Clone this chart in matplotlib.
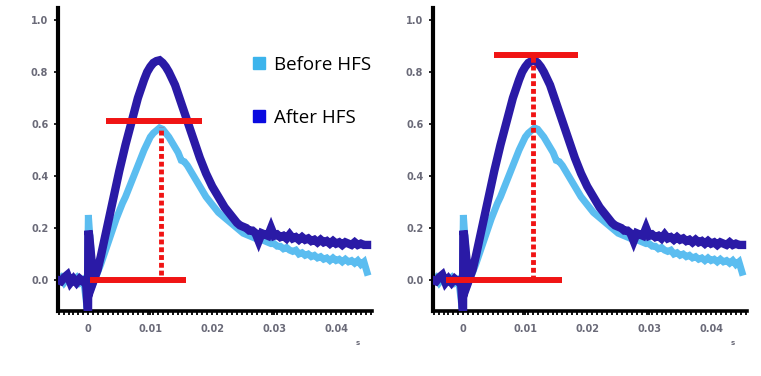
import numpy as np
import matplotlib
matplotlib.use("Agg")
import matplotlib.pyplot as plt
from matplotlib.lines import Line2D
from matplotlib.ticker import MultipleLocator

# Tempo em ms (linha de base + artefato do estímulo)
t_pre_antes = [-4.9, -4.4, -3.9, -3.4, -2.9, -2.4, -1.9, -1.4, -0.9, -0.6, -0.2, 0.0, 0.15, 0.6, 1.0]
v_pre_antes = [0.0, 0.01, -0.01, 0.005, -0.005, 0.0, 0.01, -0.01, 0.0, -0.03, -0.11, 0.25, 0.2, 0.06, 0.0]

t_pre_depois = [-4.9, -4.4, -3.9, -3.4, -2.9, -2.4, -1.9, -1.4, -0.9, -0.4, -0.05, 0.0, 0.15, 0.5, 0.9]
v_pre_depois = [0.0, -0.005, 0.01, 0.02, -0.01, 0.005, -0.01, 0.005, -0.005, 0.0, -0.13, 0.19, 0.17, 0.08, 0.0]

# Tempo em ms (resposta)
t_main = [1.5, 2.0, 2.5, 3.0, 3.5, 4.0, 4.5, 5.0, 5.5, 6.0,
          6.5, 7.0, 7.5, 8.0, 8.5, 9.0, 9.5, 10.0, 10.5, 11.0,
          11.5, 12.0, 12.5, 13.0, 13.5, 14.0, 14.5, 15.0, 15.5, 16.0,
          16.5, 17.0, 17.5, 18.0, 18.5, 19.0, 19.5, 20.0, 20.5, 21.0,
          21.5, 22.0, 22.5, 23.0, 23.5, 24.0, 24.5, 25.0, 25.5, 26.0,
          26.5, 27.0, 27.5, 28.0, 28.5, 29.0, 29.5, 30.0, 30.5, 31.0,
          31.5, 32.0, 32.5, 33.0, 33.5, 34.0, 34.5, 35.0, 35.5, 36.0,
          36.5, 37.0, 37.5, 38.0, 38.5, 39.0, 39.5, 40.0, 40.5, 41.0,
          41.5, 42.0, 42.5, 43.0, 43.5, 44.0, 44.5, 45.0]

# Before HFS
v_antes = [0.03, 0.06, 0.095, 0.13, 0.165, 0.20, 0.235, 0.265, 0.295, 0.32,
           0.35, 0.38, 0.41, 0.44, 0.47, 0.50, 0.525, 0.55, 0.565, 0.575,
           0.585, 0.58, 0.565, 0.55, 0.53, 0.51, 0.49, 0.46, 0.455, 0.44,
           0.42, 0.40, 0.38, 0.36, 0.34, 0.32, 0.305, 0.29, 0.275, 0.26,
           0.25, 0.24, 0.23, 0.22, 0.21, 0.20, 0.19, 0.18, 0.175, 0.17,
           0.165, 0.16, 0.155, 0.155, 0.15, 0.145, 0.14, 0.14, 0.13, 0.13,
           0.12, 0.125, 0.115, 0.11, 0.115, 0.10, 0.105, 0.095, 0.10, 0.09,
           0.095, 0.085, 0.09, 0.08, 0.085, 0.075, 0.085, 0.075, 0.08, 0.07,
           0.08, 0.07, 0.075, 0.065, 0.075, 0.06, 0.07, 0.03]

# After HFS
v_depois = [0.04, 0.09, 0.145, 0.20, 0.255, 0.31, 0.365, 0.42, 0.47, 0.52,
            0.565, 0.61, 0.655, 0.70, 0.735, 0.77, 0.80, 0.82, 0.835, 0.842,
            0.845, 0.835, 0.82, 0.80, 0.775, 0.75, 0.715, 0.68, 0.645, 0.61,
            0.575, 0.54, 0.505, 0.47, 0.44, 0.41, 0.385, 0.36, 0.34, 0.32,
            0.30, 0.28, 0.265, 0.25, 0.235, 0.22, 0.21, 0.205, 0.20, 0.19,
            0.19, 0.18, 0.15, 0.18, 0.175, 0.17, 0.20, 0.17, 0.175, 0.165,
            0.17, 0.16, 0.175, 0.16, 0.165, 0.155, 0.165, 0.155, 0.16, 0.15,
            0.155, 0.145, 0.155, 0.145, 0.15, 0.14, 0.15, 0.14, 0.145, 0.135,
            0.145, 0.14, 0.135, 0.145, 0.135, 0.14, 0.135, 0.135]

# Marcas vermelhas (ms e amplitude) de cada painel
marcas_esq = {'topo_y': 0.61, 'topo_x': (2.9, 18.4), 'base_x': (0.2, 15.8), 'linha_x': 11.8, 'linha_y': (0.02, 0.59)}
marcas_dir = {'topo_y': 0.865, 'topo_x': (5.0, 18.5), 'base_x': (-2.8, 16.0), 'linha_x': 11.2, 'linha_y': (0.0, 0.86)}

x_ticks = [0.0, 0.01, 0.02, 0.03, 0.04]
x_labels = ['0', '0.01', '0.02', '0.03', '0.04']
y_ticks = [0.0, 0.2, 0.4, 0.6, 0.8, 1.0]
y_labels = ['0.0', '0.2', '0.4', '0.6', '0.8', '1.0']

COR_ANTES = '#5bbdf0'
COR_DEPOIS = '#2a1aa6'
COR_VERMELHO = '#f01414'
COR_TEXTO = '#6a6a78'


def serie(t_pre, v_pre, v_main):
    t = np.array(t_pre + t_main) / 1000.0
    v = np.array(v_pre + v_main)
    return t, v


def desenhar_painel(ax, marcas):
    t, v = serie(t_pre_antes, v_pre_antes, v_antes)
    ax.plot(t, v, color=COR_ANTES, lw=5.0, solid_joinstyle='miter', zorder=2)
    t, v = serie(t_pre_depois, v_pre_depois, v_depois)
    ax.plot(t, v, color=COR_DEPOIS, lw=6.0, solid_joinstyle='miter', zorder=3)

    # Linhas vermelhas
    ax.plot(np.array(marcas['topo_x']) / 1000.0, [marcas['topo_y']] * 2, color=COR_VERMELHO,
            lw=4.3, solid_capstyle='butt', zorder=5)
    ax.plot(np.array(marcas['base_x']) / 1000.0, [0.0, 0.0], color=COR_VERMELHO,
            lw=4.3, solid_capstyle='butt', zorder=5)
    ax.plot([marcas['linha_x'] / 1000.0] * 2, marcas['linha_y'], color=COR_VERMELHO,
            lw=3.5, dashes=(1.0, 0.6), dash_capstyle='butt', zorder=5)

    ax.set_xlim(-0.0049, 0.0458)
    ax.set_ylim(-0.119, 1.046)
    for lado in ['top', 'right']:
        ax.spines[lado].set_visible(False)
    ax.spines['left'].set_linewidth(3)
    ax.spines['bottom'].set_linewidth(2.6)

    ax.set_xticks(x_ticks)
    ax.set_xticklabels(x_labels)
    ax.set_yticks(y_ticks)
    ax.set_yticklabels(y_labels)
    ax.xaxis.set_minor_locator(MultipleLocator(0.0008))
    ax.yaxis.set_minor_locator(MultipleLocator(0.01))
    ax.tick_params(axis='x', which='both', direction='out', length=3.2, width=1.3, pad=6,
                   labelsize=7, labelcolor=COR_TEXTO)
    ax.tick_params(axis='y', which='major', direction='out', length=3, width=1.2, pad=4,
                   labelsize=7, labelcolor=COR_TEXTO)
    ax.tick_params(axis='y', which='minor', direction='out', length=1.5, width=1.0)
    for lbl in ax.get_xticklabels() + ax.get_yticklabels():
        lbl.set_fontweight('bold')

    # unidade "s"
    ax.text(0.955, -0.105, 's', transform=ax.transAxes, fontsize=5, fontweight='bold',
            color=COR_TEXTO, ha='center', va='center')


fig = plt.figure(figsize=(7.61, 3.76), dpi=100)
ax1 = fig.add_axes([58 / 761, 65 / 376, 314 / 761, 303 / 376])
ax2 = fig.add_axes([433 / 761, 65 / 376, 314 / 761, 303 / 376])

desenhar_painel(ax1, marcas_esq)
desenhar_painel(ax2, marcas_dir)

# Legenda
handles = [Line2D([], [], marker='s', ls='none', color='#3cb4ec', markersize=8.5),
           Line2D([], [], marker='s', ls='none', color='#0a0ae0', markersize=8.5)]
leg = ax1.legend(handles, ['Before HFS', 'After HFS'], loc='upper left',
                 bbox_to_anchor=(252 / 761, 1 - 56 / 376), bbox_transform=fig.transFigure,
                 frameon=False, handlelength=0.7, handletextpad=0.5, labelspacing=1.85,
                 borderpad=0, borderaxespad=0, prop={'family': 'Open Sans', 'size': 13.5})

fig.savefig('out.png', dpi=100)
